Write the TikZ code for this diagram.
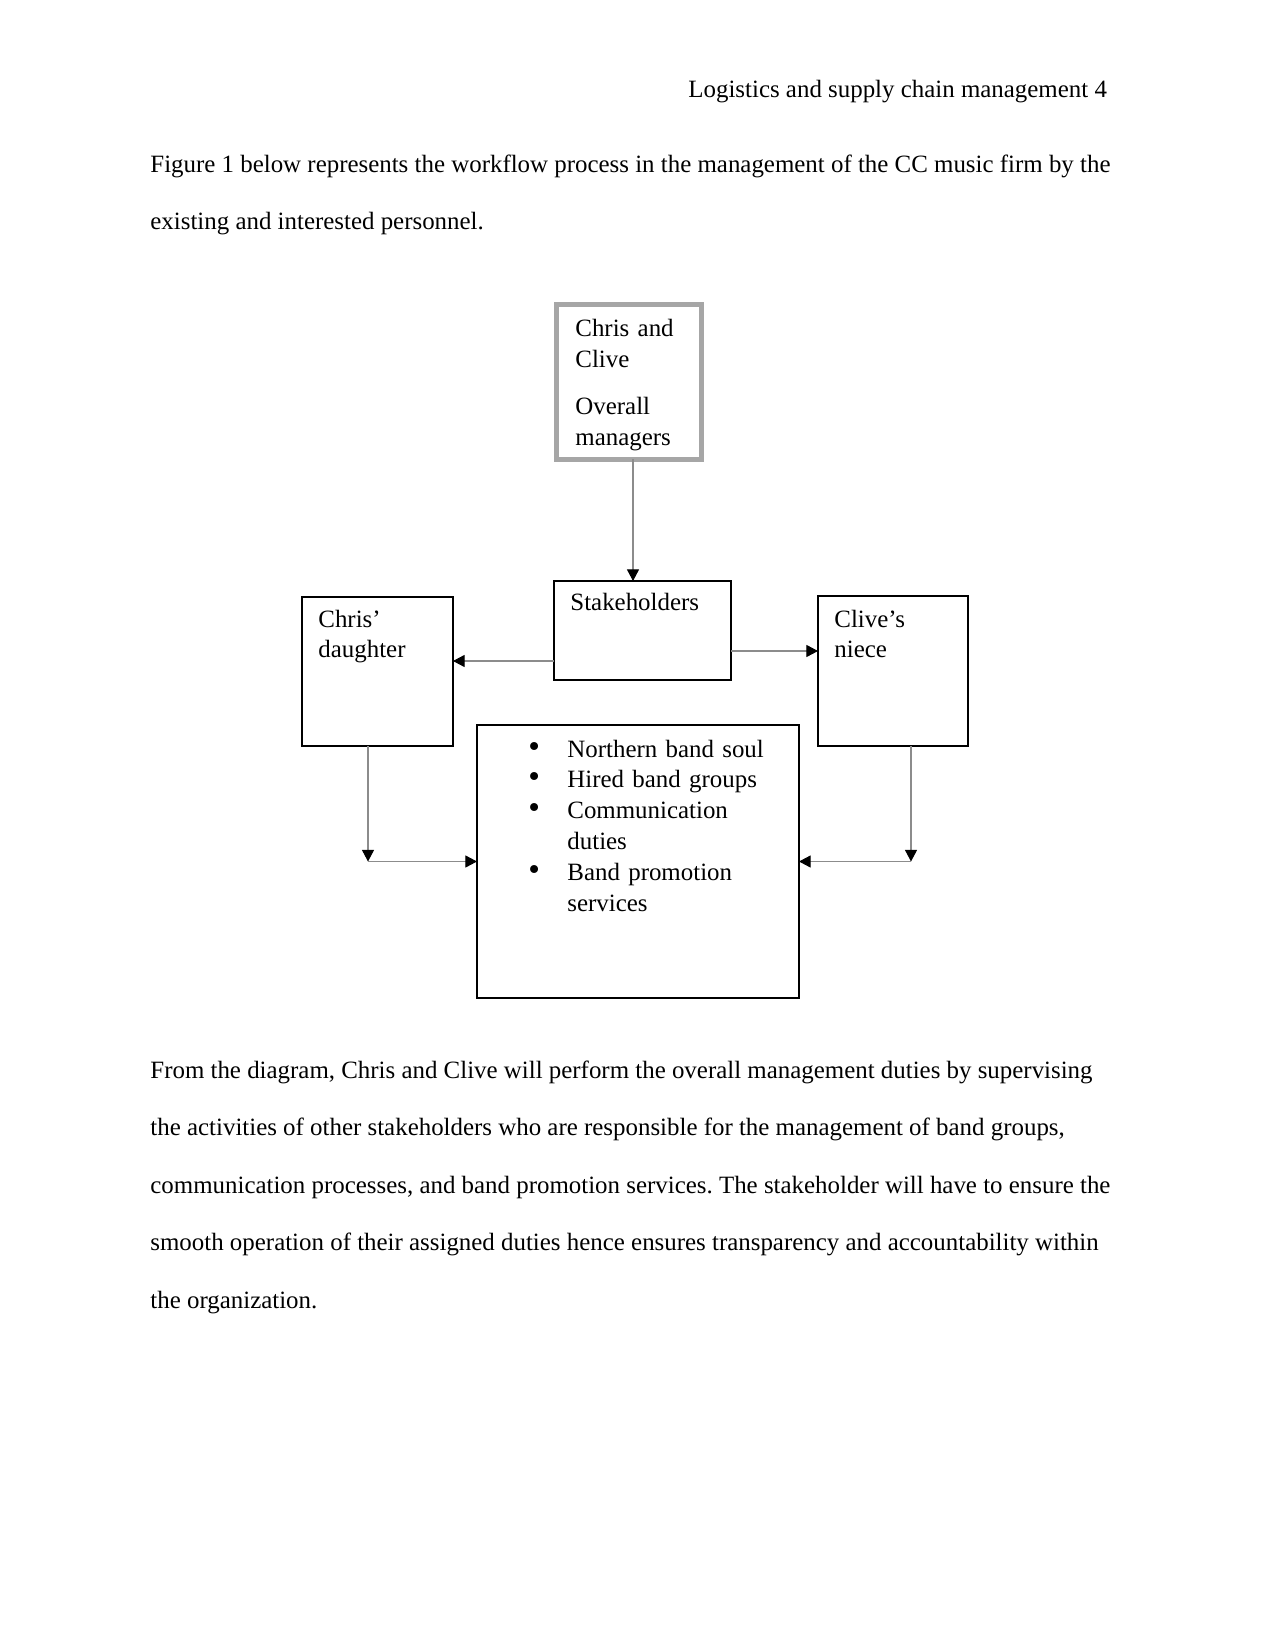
\documentclass[tikz,border=0pt]{standalone}
\usepackage{fontspec}
\setmainfont{Liberation Serif}
\usetikzlibrary{arrows.meta,positioning,calc}
\definecolor{cInk}{HTML}{000000}
\definecolor{cFrame}{HTML}{A6A6A6}
\definecolor{cLink}{HTML}{8C8C8C}
\newdimen\pxu \pxu=0.4818pt
\newcommand\blt{\leavevmode\llap{{\fontsize{16pt}{16pt}\selectfont •}\hspace{13.2pt}}}
\frenchspacing
\tikzset{
  font=\fontsize{12pt}{14.85pt}\selectfont,
  txt/.style={anchor=base west, inner sep=0pt, align=left},
  card/.style={draw=cInk, line width=0.5pt, anchor=north west, inner sep=0pt, outer sep=0pt},
  flow/.style={-{Triangle[length=5.6pt,width=5.8pt,color=cInk]}, line width=0.5pt, draw=cLink},
}

\begin{document}
\begin{tikzpicture}[x=\pxu, y=-\pxu]
\useasboundingbox[fill=white] (0,0) rectangle (1275,1651);
% page text
\node[txt] (hd) at (688,98) {Logistics and supply chain management 4};
\node[txt] (pa1) at (150,173) {Figure 1 below represents the workflow process in the management of the CC music firm by the};
\node[txt] (pa2) at (150,230) {existing and interested personnel.};
% boxes
\node[card, draw=cFrame, line width=5\pxu, minimum width=145\pxu, minimum height=155\pxu] (cc) at (556.5,304.5) {};
\node[card, minimum width=177\pxu, minimum height=99\pxu] (sh) at (554,581) {};
\node[card, minimum width=151\pxu, minimum height=149\pxu] (cd) at (302,597) {};
\node[card, minimum width=150\pxu, minimum height=150\pxu] (cn) at (818,596) {};
\node[card, minimum width=322\pxu, minimum height=273\pxu] (core) at (477,725) {};
\node[txt, text width=120\pxu] (ccl) at (575,337) {Chris and\\Clive\\[7.7pt]Overall\\managers};
\node[txt] (shl) at (570,610) {Stakeholders};
\node[txt, text width=120\pxu] (cdl) at (318,627) {Chris’\\daughter};
\node[txt, text width=120\pxu] (cnl) at (834,627) {Clive’s\\niece};
\node[txt, text width=220\pxu] (corel) at (567,757) {\blt Northern band soul\\\blt Hired band groups\\\blt Communication\\duties\\\blt Band promotion\\services};
% links
\draw[flow] ([xshift=4\pxu]cc.south) -- ([xshift=4\pxu]cc.south |- sh.north);
\draw[flow] ([yshift=-30.5\pxu]sh.west) -- ([yshift=-30.5\pxu]sh.west -| cd.east);
\draw[flow] ([yshift=-20.5\pxu]sh.east) -- ([yshift=-20.5\pxu]sh.east -| cn.west);
\coordinate (dl) at ([xshift=-9.5\pxu]cd.south |- core.west);
\coordinate (nr) at ([xshift=18\pxu]cn.south |- core.east);
\draw[flow] ([xshift=-9.5\pxu]cd.south) -- (dl);
\draw[flow] (dl) -- (core.west);
\draw[flow] ([xshift=18\pxu]cn.south) -- (nr);
\draw[flow] (nr) -- (core.east);
% page text
\node[txt] (pb1) at (150,1078) {From the diagram, Chris and Clive will perform the overall management duties by supervising};
\node[txt] (pb2) at (150,1135.5) {the activities of other stakeholders who are responsible for the management of band groups,};
\node[txt] (pb3) at (150,1193) {communication processes, and band promotion services. The stakeholder will have to ensure the};
\node[txt] (pb4) at (150,1250.5) {smooth operation of their assigned duties hence ensures transparency and accountability within};
\node[txt] (pb5) at (150,1308) {the organization.};
\end{tikzpicture}
\end{document}
